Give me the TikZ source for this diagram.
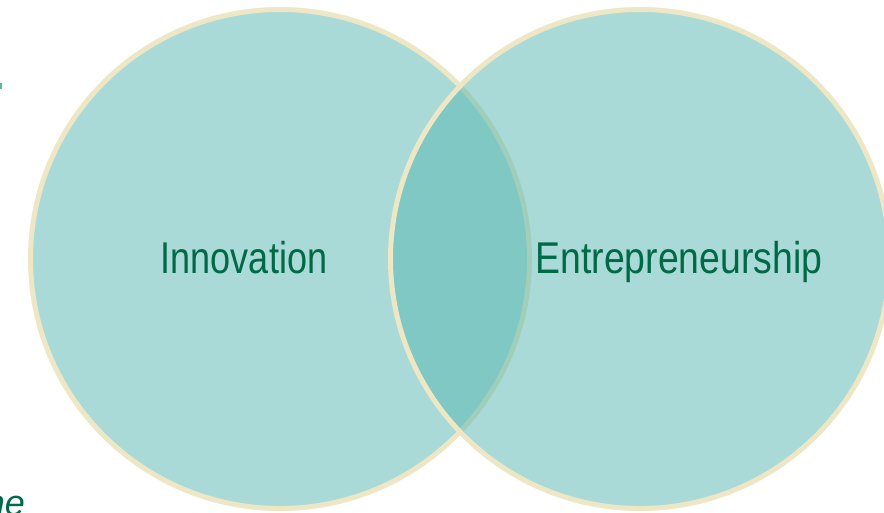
\documentclass[tikz,border=0pt]{standalone}
\usepackage{fontspec}
\setmainfont{Liberation Sans}
\newfontfamily\narrowfont[FakeStretch=0.81]{Liberation Sans}
\newfontfamily\narrowwidefont[FakeStretch=0.84]{Liberation Sans}
\definecolor{circfill}{RGB}{87,183,177}
\definecolor{circedge}{RGB}{237,231,197}
\definecolor{txtgreen}{RGB}{0,105,70}
\definecolor{fragteal}{RGB}{95,183,160}
\tikzset{
  venn/.style={fill=circfill, fill opacity=0.5, draw=circedge, draw opacity=1, line width=5pt},
  label/.style={text=txtgreen, inner sep=0pt, anchor=base}
}
\begin{document}
\begin{tikzpicture}[x=1pt,y=-1pt]
\useasboundingbox (0,0) rectangle (884,512);
\clip (0,0) rectangle (884,512);
\fill[white] (0,0) rectangle (884,512);
\coordinate (lc) at (280,259);
\coordinate (rc) at (640,259);
\draw[venn] (lc) circle[radius=249.5];
\draw[venn] (rc) circle[radius=249.5];
\node[label, font=\narrowfont\fontsize{44.5pt}{50pt}\selectfont] (inno) at (244,273) {Innovation};
\node[label, font=\narrowwidefont\fontsize{44.5pt}{50pt}\selectfont] (entre) at (679,273) {Entrepreneurship};
\node[text=txtgreen, font=\itshape\fontsize{36pt}{40pt}\selectfont, inner sep=0pt, anchor=base east] (frag) at (25,515) {ne};
\fill[fragteal] (0,83) rectangle (2,89);
\end{tikzpicture}
\end{document}
